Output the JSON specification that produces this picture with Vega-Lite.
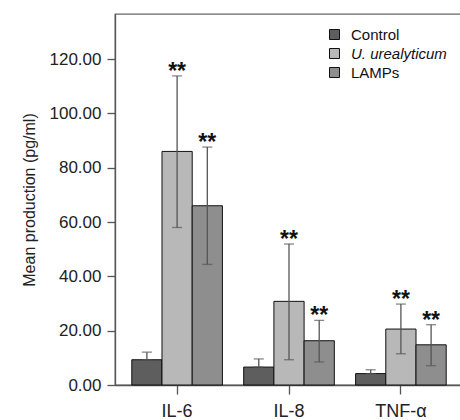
{
  "$schema": "https://vega.github.io/schema/vega-lite/v6.json",
  "width": 348,
  "height": 371,
  "autosize": {"type": "none"},
  "padding": {"left": 115, "top": 14, "right": 0, "bottom": 35},
  "background": "white",
  "config": {
    "font": "Liberation Sans",
    "view": {"stroke": "#666666", "strokeWidth": 1.3},
    "axis": {"grid": false, "domainColor": "#555555", "tickColor": "#555555", "domainWidth": 1.3, "tickWidth": 1.3, "labelColor": "#222222", "titleColor": "#222222"}
  },
  "data": {
    "values": [
      {"cytokine": "IL-6", "group": "Control", "mean": 9.3, "lo": 9.3, "hi": 12.1, "sig": ""},
      {"cytokine": "IL-6", "group": "U. urealyticum", "mean": 86.0, "lo": 58.0, "hi": 113.8, "sig": "**"},
      {"cytokine": "IL-6", "group": "LAMPs", "mean": 66.0, "lo": 44.4, "hi": 87.6, "sig": "**"},
      {"cytokine": "IL-8", "group": "Control", "mean": 6.6, "lo": 6.6, "hi": 9.6, "sig": ""},
      {"cytokine": "IL-8", "group": "U. urealyticum", "mean": 30.8, "lo": 9.3, "hi": 51.9, "sig": "**"},
      {"cytokine": "IL-8", "group": "LAMPs", "mean": 16.3, "lo": 8.5, "hi": 23.8, "sig": "**"},
      {"cytokine": "TNF-α", "group": "Control", "mean": 4.2, "lo": 4.2, "hi": 5.6, "sig": ""},
      {"cytokine": "TNF-α", "group": "U. urealyticum", "mean": 20.6, "lo": 11.5, "hi": 29.8, "sig": "**"},
      {"cytokine": "TNF-α", "group": "LAMPs", "mean": 14.8, "lo": 7.1, "hi": 22.2, "sig": "**"}
    ]
  },
  "encoding": {
    "x": {
      "field": "cytokine", "type": "nominal", "sort": ["IL-6", "IL-8", "TNF-α"],
      "scale": {"paddingInner": 0.19, "paddingOuter": 0.15},
      "axis": {"title": null, "labelAngle": 0, "labelFontSize": 18, "tickSize": 9, "labelPadding": 8}
    },
    "xOffset": {
      "field": "group", "type": "nominal",
      "scale": {"domain": ["Control", "U. urealyticum", "LAMPs"], "paddingInner": 0, "paddingOuter": 0}
    }
  },
  "layer": [
    {
      "mark": {"type": "bar", "stroke": "#111111", "strokeWidth": 1},
      "encoding": {
        "y": {
          "field": "mean", "type": "quantitative",
          "scale": {"domain": [0, 136.6], "nice": false},
          "axis": {"title": "Mean production (pg/ml)", "values": [0, 20, 40, 60, 80, 100, 120], "format": ".2f", "labelFontSize": 17, "titleFontSize": 16, "titleFontWeight": "normal", "tickSize": 8, "labelPadding": 6, "titlePadding": 12}
        },
        "fill": {
          "field": "group", "type": "nominal",
          "scale": {"domain": ["Control", "U. urealyticum", "LAMPs"], "range": ["#5e5e5e", "#b8b8b8", "#8e8e8e"]},
          "legend": {
            "title": null, "orient": "none", "legendX": 212, "legendY": 13,
            "symbolType": "square", "symbolSize": 100, "symbolStrokeColor": "#111111", "symbolStrokeWidth": 1,
            "labelFontSize": 15, "labelColor": "#111111", "labelOffset": 9, "rowPadding": 3,
            "labelFontStyle": {"expr": "datum.label == 'U. urealyticum' ? 'italic' : 'normal'"}
          }
        }
      }
    },
    {
      "mark": {"type": "rule", "color": "#555555", "strokeWidth": 1.3},
      "encoding": {
        "y": {"field": "lo", "type": "quantitative"},
        "y2": {"field": "hi"}
      }
    },
    {
      "mark": {"type": "tick", "color": "#555555", "thickness": 1.3, "size": 10, "orient": "horizontal"},
      "encoding": {"y": {"field": "hi", "type": "quantitative"}}
    },
    {
      "mark": {"type": "tick", "color": "#555555", "thickness": 1.3, "size": 10, "orient": "horizontal"},
      "encoding": {"y": {"field": "lo", "type": "quantitative"}}
    },
    {
      "mark": {"type": "text", "fontSize": 23, "fontWeight": "bold", "baseline": "alphabetic", "dy": 3, "color": "#111111"},
      "encoding": {
        "y": {"field": "hi", "type": "quantitative"},
        "text": {"field": "sig"}
      }
    }
  ]
}
